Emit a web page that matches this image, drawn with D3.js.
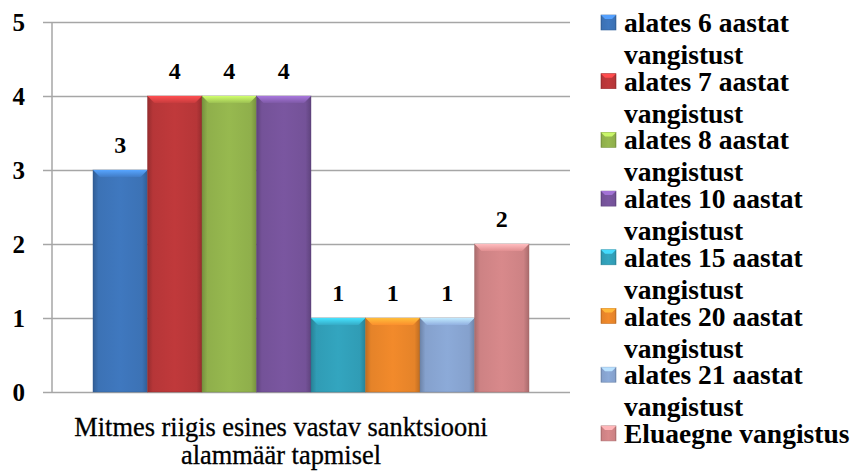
<!DOCTYPE html>
<html>
<head>
<meta charset="utf-8">
<script src="https://cdn.jsdelivr.net/npm/d3@7"></script>
<style>
    body { margin: 0; background: #fff; }
    svg { display: block; font-family: "Liberation Serif", "Times New Roman", serif; }
    .tick text { font-size: 25px; font-weight: bold; fill: #000; }
    .tick line { stroke: #a6a6a6; stroke-width: 1.5; }
</style>
</head>
<body>
<div id="chart"></div>
<script>

// data
var category = ["Mitmes riigis esines vastav sanktsiooni", "alammäär tapmisel"];
var series = [
    "alates 6 aastat vangistust",
    "alates 7 aastat vangistust",
    "alates 8 aastat vangistust",
    "alates 10 aastat vangistust",
    "alates 15 aastat vangistust",
    "alates 20 aastat vangistust",
    "alates 21 aastat vangistust",
    "Eluaegne vangistus"
];
var values = [3, 4, 4, 4, 1, 1, 1, 2];
var yTicks = [0, 1, 2, 3, 4, 5];
var colors = ["#3f78bf", "#c0393b", "#97b94f", "#7a56a0", "#33a5bf", "#f28a2b", "#8caad8", "#d8898b"];

var width = 856, height = 474;
var gridLeft = 43, axisX = 52, plotRight = 570;
var plotTop = 22, plotBottom = 392;
var serif = "'Liberation Serif', 'Times New Roman', serif";

var svg = d3.select("#chart").append("svg")
    .attr("width", width)
    .attr("height", height);

var defs = svg.append("defs");

var y = d3.scaleLinear().domain([0, 5]).range([plotBottom, plotTop]);

// one category, gap width ~150% like the original
var xCat = d3.scaleBand().domain([0]).range([axisX, plotRight]).paddingInner(0).paddingOuter(0.094);
var xSer = d3.scaleBand().domain(d3.range(series.length)).range([xCat(0), xCat(0) + xCat.bandwidth()]);

// gridlines + tick labels
var yAxis = svg.append("g")
    .attr("transform", "translate(" + gridLeft + ",0)")
    .call(d3.axisLeft(y).tickValues(yTicks).tickFormat(d3.format("d"))
        .tickSize(-(plotRight - gridLeft)).tickPadding(18))
    .attr("font-family", serif);   // axis sets sans-serif otherwise
yAxis.select(".domain").remove();
yAxis.selectAll(".tick text").attr("dy", "0.34em");

svg.append("line")
    .attr("x1", axisX).attr("x2", axisX)
    .attr("y1", y(5)).attr("y2", y(0))
    .attr("stroke", "#a6a6a6").attr("stroke-width", 1.5);

// gradients for the bevelled bars
colors.forEach(function (c, i) {
    var base = d3.color(c);
    var g = defs.append("linearGradient").attr("id", "side" + i)
        .attr("x1", 0).attr("x2", 1).attr("y1", 0).attr("y2", 0);
    g.append("stop").attr("offset", "0%").attr("stop-color", base.darker(0.7));
    g.append("stop").attr("offset", "10%").attr("stop-color", base.darker(0.15));
    g.append("stop").attr("offset", "50%").attr("stop-color", base);
    g.append("stop").attr("offset", "90%").attr("stop-color", base.darker(0.15));
    g.append("stop").attr("offset", "100%").attr("stop-color", base.darker(0.7));

    var t = defs.append("linearGradient").attr("id", "top" + i)
        .attr("x1", 0).attr("x2", 0).attr("y1", 0).attr("y2", 1);
    t.append("stop").attr("offset", "0%").attr("stop-color", base.brighter(0.9));
    t.append("stop").attr("offset", "100%").attr("stop-color", base.brighter(0.1));
});

var bars = svg.append("g").selectAll("g")
    .data(values)
    .enter().append("g");

bars.append("rect")
    .attr("x", function (d, i) { return xSer(i); })
    .attr("y", function (d) { return y(d); })
    .attr("width", xSer.bandwidth())
    .attr("height", function (d) { return y(0) - y(d); })
    .attr("fill", function (d, i) { return "url(#side" + i + ")"; })
    .attr("stroke", function (d, i) { return d3.color(colors[i]).darker(0.8); })
    .attr("stroke-opacity", 0.5)
    .attr("stroke-width", 0.8);

var bev = 7;
bars.append("path")
    .attr("d", function (d, i) {
        var x0 = xSer(i), x1 = x0 + xSer.bandwidth(), t = y(d);
        return "M" + x0 + "," + t + "L" + x1 + "," + t +
            "L" + (x1 - bev) + "," + (t + bev) + "L" + (x0 + bev) + "," + (t + bev) + "Z";
    })
    .attr("fill", function (d, i) { return "url(#top" + i + ")"; });

bars.append("text")
    .attr("x", function (d, i) { return xSer(i) + xSer.bandwidth() / 2; })
    .attr("y", function (d) { return y(d) - 17; })
    .attr("text-anchor", "middle")
    .attr("font-size", "24px")
    .attr("font-weight", "bold")
    .text(function (d) { return d; });

// category label
svg.append("text")
    .attr("x", 281)
    .attr("y", 436)
    .attr("text-anchor", "middle")
    .attr("font-size", "26.4px")
    .attr("stroke", "#000").attr("stroke-width", 0.3)
    .selectAll("tspan")
    .data(category)
    .enter().append("tspan")
    .attr("x", 281)
    .attr("dy", function (d, i) { return i ? 28 : 0; })
    .text(function (d) { return d; });

// legend
var legX = 601, textX = 624, legTop = 32, legStep = 58.7, lineGap = 32;
var legend = svg.append("g").selectAll("g")
    .data(series)
    .enter().append("g");

legend.each(function (name, i) {
    var g = d3.select(this);
    var base = legTop + i * legStep;
    var c = d3.color(colors[i]);

    g.append("rect")
        .attr("x", legX).attr("y", base - 17)
        .attr("width", 15).attr("height", 15)
        .attr("fill", "url(#side" + i + ")")
        .attr("stroke", c.darker(0.6)).attr("stroke-width", 0.6);
    g.append("path")
        .attr("d", "M" + legX + "," + (base - 17) + "l15,0l-4,4l-7,0Z")
        .attr("fill", c.brighter(0.8));

    var text = g.append("text")
        .attr("x", textX).attr("y", base)
        .attr("font-size", "27.5px")
        .attr("font-weight", "bold");

    // wrap to the space left at the right edge
    var words = name.split(" "), line = [], lines = [];
    var probe = text.append("tspan");
    words.forEach(function (w) {
        line.push(w);
        probe.text(line.join(" "));
        if (probe.node().getComputedTextLength() > width - textX - 2 && line.length > 1) {
            line.pop();
            lines.push(line.join(" "));
            line = [w];
        }
    });
    lines.push(line.join(" "));
    probe.remove();

    text.selectAll("tspan")
        .data(lines)
        .enter().append("tspan")
        .attr("x", textX)
        .attr("dy", function (d, j) { return j ? lineGap : 0; })
        .text(function (d) { return d; });
});

</script>
</body>
</html>
